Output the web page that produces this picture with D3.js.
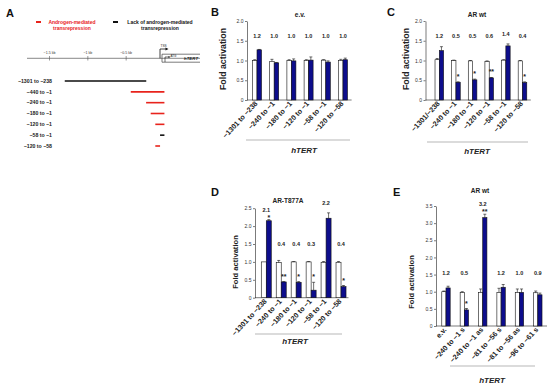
<!DOCTYPE html>
<html>
<head>
<meta charset="utf-8">
<script src="https://cdn.jsdelivr.net/npm/d3@7"></script>
<style>
  body { margin: 0; background: #fff; }
</style>
</head>
<body>
<svg id="fig" width="550" height="384"></svg>
<script>
// ---- panel A: promoter constructs
const constructLabels = ["\u22121301 to \u2212238", "\u2212440 to \u22121", "\u2212240 to \u22121", "\u2212180 to \u22121", "\u2212120 to \u22121", "\u221258 to \u22121", "\u2212120 to \u221258"];
const constructStart = [-1301, -440, -240, -180, -120, -58, -120];
const constructEnd = [-238, -1, -1, -1, -1, -1, -58];
const constructRepressed = [false, true, true, true, true, false, true];
const kbTicks = [-1500, -1000, -500];
const kbTickLabels = ["\u22121.5 kb", "\u22121 kb", "\u22120.5 kb"];

// ---- bar panels
const labelsBD = ["\u22121301 to \u2212238", "\u2212240 to \u22121", "\u2212180 to \u22121", "\u2212120 to \u22121", "\u221258 to \u22121", "\u2212120 to \u221258"];
const labelsC = ["\u22121301/\u2212238", "\u2212240 to \u22121", "\u2212180 to \u22121", "\u2212120 to \u22121", "\u221258 to \u22121", "\u2212120 to \u221258"];
const labelsE = ["e.v.", "\u2212240 to \u22121 s", "\u2212240 to \u22121 as", "\u221281 to \u221256 s", "\u221281 to \u221256 as", "\u221296 to \u221261 s"];

// B: e.v.
const evCtrl = [1.0, 0.98, 1.0, 1.0, 1.01, 1.0];
const evCtrlErr = [0.02, 0.05, 0.02, 0.02, 0.01, 0.03];
const evAR = [1.27, 0.94, 0.99, 1.01, 0.96, 1.02];
const evARErr = [0.01, 0.01, 0.05, 0.08, 0.03, 0.04];
const evFold = ["1.2", "1.0", "1.0", "1.0", "1.0", "1.0"];
const evStars = ["", "", "", "", "", ""];

// C: AR wt
const wtCtrl = [1.02, 1.0, 0.99, 0.98, 1.01, 0.99];
const wtCtrlErr = [0.03, 0.01, 0.01, 0.01, 0.01, 0.01];
const wtAR = [1.25, 0.45, 0.51, 0.56, 1.37, 0.44];
const wtARErr = [0.1, 0.01, 0.02, 0.01, 0.05, 0.02];
const wtFold = ["1.2", "0.5", "0.5", "0.6", "1.4", "0.4"];
const wtStars = ["", "*", "*", "**", "", "*"];

// D: AR-T877A
const mutCtrl = [1.0, 0.98, 1.0, 1.0, 0.99, 0.99];
const mutCtrlErr = [0.0, 0.06, 0.01, 0.01, 0.02, 0.02];
const mutAR = [2.15, 0.44, 0.43, 0.21, 2.22, 0.31];
const mutARErr = [0.03, 0.01, 0.02, 0.22, 0.15, 0.03];
const mutFold = ["2.1", "0.4", "0.4", "0.3", "2.2", "0.4"];
const mutStars = ["*", "**", "*", "*", "", "*"];

// E: AR wt, oligo constructs
const oliCtrl = [1.0, 0.98, 0.98, 0.98, 0.98, 0.97];
const oliCtrlErr = [0.02, 0.02, 0.1, 0.12, 0.1, 0.05];
const oliAR = [1.11, 0.47, 3.16, 1.13, 0.98, 0.91];
const oliARErr = [0.05, 0.04, 0.1, 0.08, 0.1, 0.05];
const oliFold = ["1.2", "0.5", "3.2", "1.2", "1.0", "0.9"];
const oliStars = ["", "*", "**", "", "", ""];

const font = '"Liberation Sans", Arial, sans-serif';
const RED = "#e8231c", NAVY = "#0d0d8c", INK = "#222";

const svg = d3.select("#fig").attr("font-family", font);
svg.append("rect").attr("width", 550).attr("height", 384).attr("fill", "#fff");

function letter(t, x, y) {
  svg.append("text").attr("x", x).attr("y", y).attr("font-size", 11)
    .attr("font-weight", "bold").attr("fill", "#111").text(t);
}

// ================= panel A =================
letter("A", 6, 17);

// legend
const legend = [
  {c: RED, x: 36, tx: 72, l1: "Androgen-mediated", l2: "transrepression"},
  {c: "#111", x: 113, tx: 160, l1: "Lack of androgen-mediated", l2: "transrepression"}
];
legend.forEach(d => {
  svg.append("line").attr("x1", d.x).attr("x2", d.x + 5).attr("y1", 22).attr("y2", 22)
    .attr("stroke", d.c).attr("stroke-width", 2);
  [d.l1, d.l2].forEach((s, i) => svg.append("text").attr("x", d.tx).attr("y", 23.5 + i * 6.5)
    .attr("text-anchor", "middle").attr("font-size", 5).attr("font-weight", "bold")
    .attr("fill", d.c === RED ? RED : "#111").text(s));
});

const kb = d3.scaleLinear().domain([-1500, 0]).range([49.5, 164.5]);
const rowY = d3.scalePoint().domain(d3.range(constructLabels.length)).range([81, 146]);

const gA = svg.append("g");
gA.append("line").attr("x1", 27).attr("x2", 200).attr("y1", 58.3).attr("y2", 58.3)
  .attr("stroke", "#555").attr("stroke-width", 0.7);
gA.selectAll(".kbt").data(kbTicks).join("line")
  .attr("x1", d => kb(d)).attr("x2", d => kb(d)).attr("y1", 56).attr("y2", 60.5)
  .attr("stroke", "#555").attr("stroke-width", 0.6);
gA.selectAll(".kbl").data(kbTickLabels).join("text")
  .attr("x", (d, i) => kb(kbTicks[i])).attr("y", 54).attr("text-anchor", "middle")
  .attr("font-size", 3.6).attr("fill", "#333").text(d => d);

// gene box + TSS / ATG arrows
gA.append("path").attr("d", "M200,54.2 H162 V62.2 H200").attr("fill", "none")
  .attr("stroke", "#444").attr("stroke-width", 0.7);
gA.append("path").attr("d", "M160,58.3 V49 H166").attr("fill", "none").attr("stroke", "#111").attr("stroke-width", 0.8);
gA.append("path").attr("d", "M168.5,49 L165.5,47.4 L165.5,50.6 Z").attr("fill", "#111");
gA.append("text").attr("x", 160.5).attr("y", 46.5).attr("font-size", 3.2).attr("fill", "#222").text("TSS");
gA.append("path").attr("d", "M165,62 V57 H169").attr("fill", "none").attr("stroke", "#111").attr("stroke-width", 0.6);
gA.append("path").attr("d", "M170.5,57 L168.5,56 L168.5,58 Z").attr("fill", "#111");
gA.append("text").attr("x", 170.5).attr("y", 56.5).attr("font-size", 3).attr("fill", "#222").text("ATG");
gA.append("text").attr("x", 184).attr("y", 59.8).attr("font-size", 4.4).attr("font-weight", "bold")
  .attr("font-style", "italic").attr("fill", "#222").text("hTERT");

// constructs
gA.selectAll(".cl").data(constructLabels).join("text")
  .attr("x", 52).attr("y", (d, i) => rowY(i) + 1.8).attr("text-anchor", "end")
  .attr("font-size", 5.2).attr("font-weight", "bold").attr("fill", "#222").text(d => d);
gA.selectAll(".cb").data(constructLabels).join("line")
  .attr("x1", (d, i) => kb(constructStart[i])).attr("x2", (d, i) => kb(constructEnd[i]))
  .attr("y1", (d, i) => rowY(i)).attr("y2", (d, i) => rowY(i))
  .attr("stroke", (d, i) => constructRepressed[i] ? RED : (i === 0 ? "#4a4a4a" : "#111"))
  .attr("stroke-width", (d, i) => i === 0 ? 2 : 1.6);

// ================= bar panels =================
function barPanel(p) {
  const g = svg.append("g");
  const n = p.labels.length;
  const x = d3.scaleBand().domain(d3.range(n)).range(p.band);
  const y = d3.scaleLinear().domain([0, p.max]).range(p.yRange);
  const cx = i => x(i) + x.bandwidth() / 2;

  letter(p.letter, p.lx, p.ly);
  g.append("text").attr("x", p.tx).attr("y", p.ty).attr("text-anchor", "middle")
    .attr("font-size", 6.5).attr("font-weight", "bold").attr("fill", "#222").text(p.title);

  // y axis
  const ax = g.append("g").attr("transform", `translate(${p.axisX},0)`)
    .call(d3.axisLeft(y).tickValues(p.ticks).tickSize(2).tickSizeOuter(0)
      .tickFormat(d => d === 0 ? "0" : d.toFixed(1)));
  ax.attr("font-size", 5).attr("font-family", font);
  ax.selectAll("text").attr("x", -3.5).attr("fill", "#333");
  ax.selectAll("line,path").attr("stroke", INK).attr("stroke-width", 0.6);
  g.append("line").attr("x1", p.axisX).attr("x2", p.band[1]).attr("y1", y(0)).attr("y2", y(0))
    .attr("stroke", INK).attr("stroke-width", 0.6);

  g.append("text").attr("transform", `translate(${p.ylx},${p.yly}) rotate(-90)`)
    .attr("text-anchor", "middle").attr("font-size", p.ylfs).attr("font-weight", "bold")
    .attr("fill", "#222").text("Fold activation");

  // bars
  const series = [
    {v: p.ctrl, e: p.ctrlErr, fill: "#fff", off: -p.barW},
    {v: p.ar, e: p.arErr, fill: NAVY, off: 0}
  ];
  series.forEach(s => {
    g.selectAll(null).data(s.v).join("rect")
      .attr("x", (d, i) => cx(i) + s.off).attr("width", p.barW)
      .attr("y", d => y(d)).attr("height", d => y(0) - y(d))
      .attr("fill", s.fill).attr("stroke", "#111").attr("stroke-width", 0.6);
    s.v.forEach((d, i) => {
      const bx = cx(i) + s.off + p.barW / 2;
      if (s.e[i] <= 0) return;
      g.append("line").attr("x1", bx).attr("x2", bx).attr("y1", y(d)).attr("y2", y(d + s.e[i]))
        .attr("stroke", "#111").attr("stroke-width", 0.6);
      g.append("line").attr("x1", bx - 1.5).attr("x2", bx + 1.5)
        .attr("y1", y(d + s.e[i])).attr("y2", y(d + s.e[i]))
        .attr("stroke", "#111").attr("stroke-width", 0.6);
    });
  });

  // fold labels and stars
  p.fold.forEach((f, i) => {
    const top = y(p.ar[i] + p.arErr[i]);
    const tall = top - 10 < p.foldY;
    const labY = tall ? top - 10 : p.foldY;
    const starY = tall ? top - 4 : top - 7;
    g.append("text").attr("x", cx(i)).attr("y", labY + 2).attr("text-anchor", "middle")
      .attr("font-size", 5.5).attr("font-weight", "bold").attr("fill", "#222").text(f);
    if (p.stars[i]) {
      g.append("text").attr("x", cx(i) + p.barW / 2).attr("y", starY + 4).attr("text-anchor", "middle")
        .attr("font-size", 7).attr("font-weight", "bold").attr("fill", "#222").text(p.stars[i]);
    }
  });

  // x labels
  g.selectAll(null).data(p.labels).join("text")
    .attr("transform", (d, i) => `translate(${cx(i) + 1},${y(0) + 4}) rotate(-47)`)
    .attr("text-anchor", "end").attr("font-size", 7.2).attr("font-weight", "bold")
    .attr("fill", "#222").text(d => d);

  g.append("line").attr("x1", p.hLine[0]).attr("x2", p.hLine[1]).attr("y1", p.hLine[2]).attr("y2", p.hLine[2])
    .attr("stroke", "#888").attr("stroke-width", 0.6);
  g.append("text").attr("x", p.hText[0]).attr("y", p.hText[1]).attr("text-anchor", "middle")
    .attr("font-size", 8).attr("font-weight", "bold").attr("font-style", "italic")
    .attr("fill", "#222").text("hTERT");
}

barPanel({
  letter: "B", lx: 211, ly: 16, title: "e.v.", tx: 300, ty: 17,
  band: [248.4, 351.6], axisX: 247, yRange: [100, 21], max: 2, ticks: [0, 0.5, 1, 1.5, 2],
  foldY: 35.7, ylx: 226, yly: 59, ylfs: 8.8, barW: 4.5,
  labels: labelsBD, ctrl: evCtrl, ctrlErr: evCtrlErr, ar: evAR, arErr: evARErr, fold: evFold, stars: evStars,
  hLine: [246, 350, 140], hText: [304, 153]
});

barPanel({
  letter: "C", lx: 387, ly: 16, title: "AR wt", tx: 477, ty: 17,
  band: [431, 530.8], axisX: 425.5, yRange: [100, 21], max: 2, ticks: [0, 0.5, 1, 1.5, 2],
  foldY: 35.7, ylx: 409, yly: 59, ylfs: 8.8, barW: 4.3,
  labels: labelsC, ctrl: wtCtrl, ctrlErr: wtCtrlErr, ar: wtAR, arErr: wtARErr, fold: wtFold, stars: wtStars,
  hLine: [427, 528, 142], hText: [477, 154]
});

barPanel({
  letter: "D", lx: 211, ly: 196, title: "AR-T877A", tx: 288, ty: 203,
  band: [258.8, 348.5], axisX: 255, yRange: [297.7, 208.2], max: 2.5, ticks: [0, 0.5, 1, 1.5, 2, 2.5],
  foldY: 244, ylx: 238, yly: 262, ylfs: 7.6, barW: 5,
  labels: labelsBD, ctrl: mutCtrl, ctrlErr: mutCtrlErr, ar: mutAR, arErr: mutARErr, fold: mutFold, stars: mutStars,
  hLine: [255, 342, 334], hText: [295, 344]
});

barPanel({
  letter: "E", lx: 393, ly: 196, title: "AR wt", tx: 480, ty: 193,
  band: [436.8, 547], axisX: 436, yRange: [326, 206], max: 3.5, ticks: [0, 0.5, 1, 1.5, 2, 2.5, 3, 3.5],
  foldY: 272.7, ylx: 414, yly: 282, ylfs: 7.6, barW: 4.2,
  labels: labelsE, ctrl: oliCtrl, ctrlErr: oliCtrlErr, ar: oliAR, arErr: oliARErr, fold: oliFold, stars: oliStars,
  hLine: [450, 535, 366], hText: [492, 383]
});
</script>
</body>
</html>
